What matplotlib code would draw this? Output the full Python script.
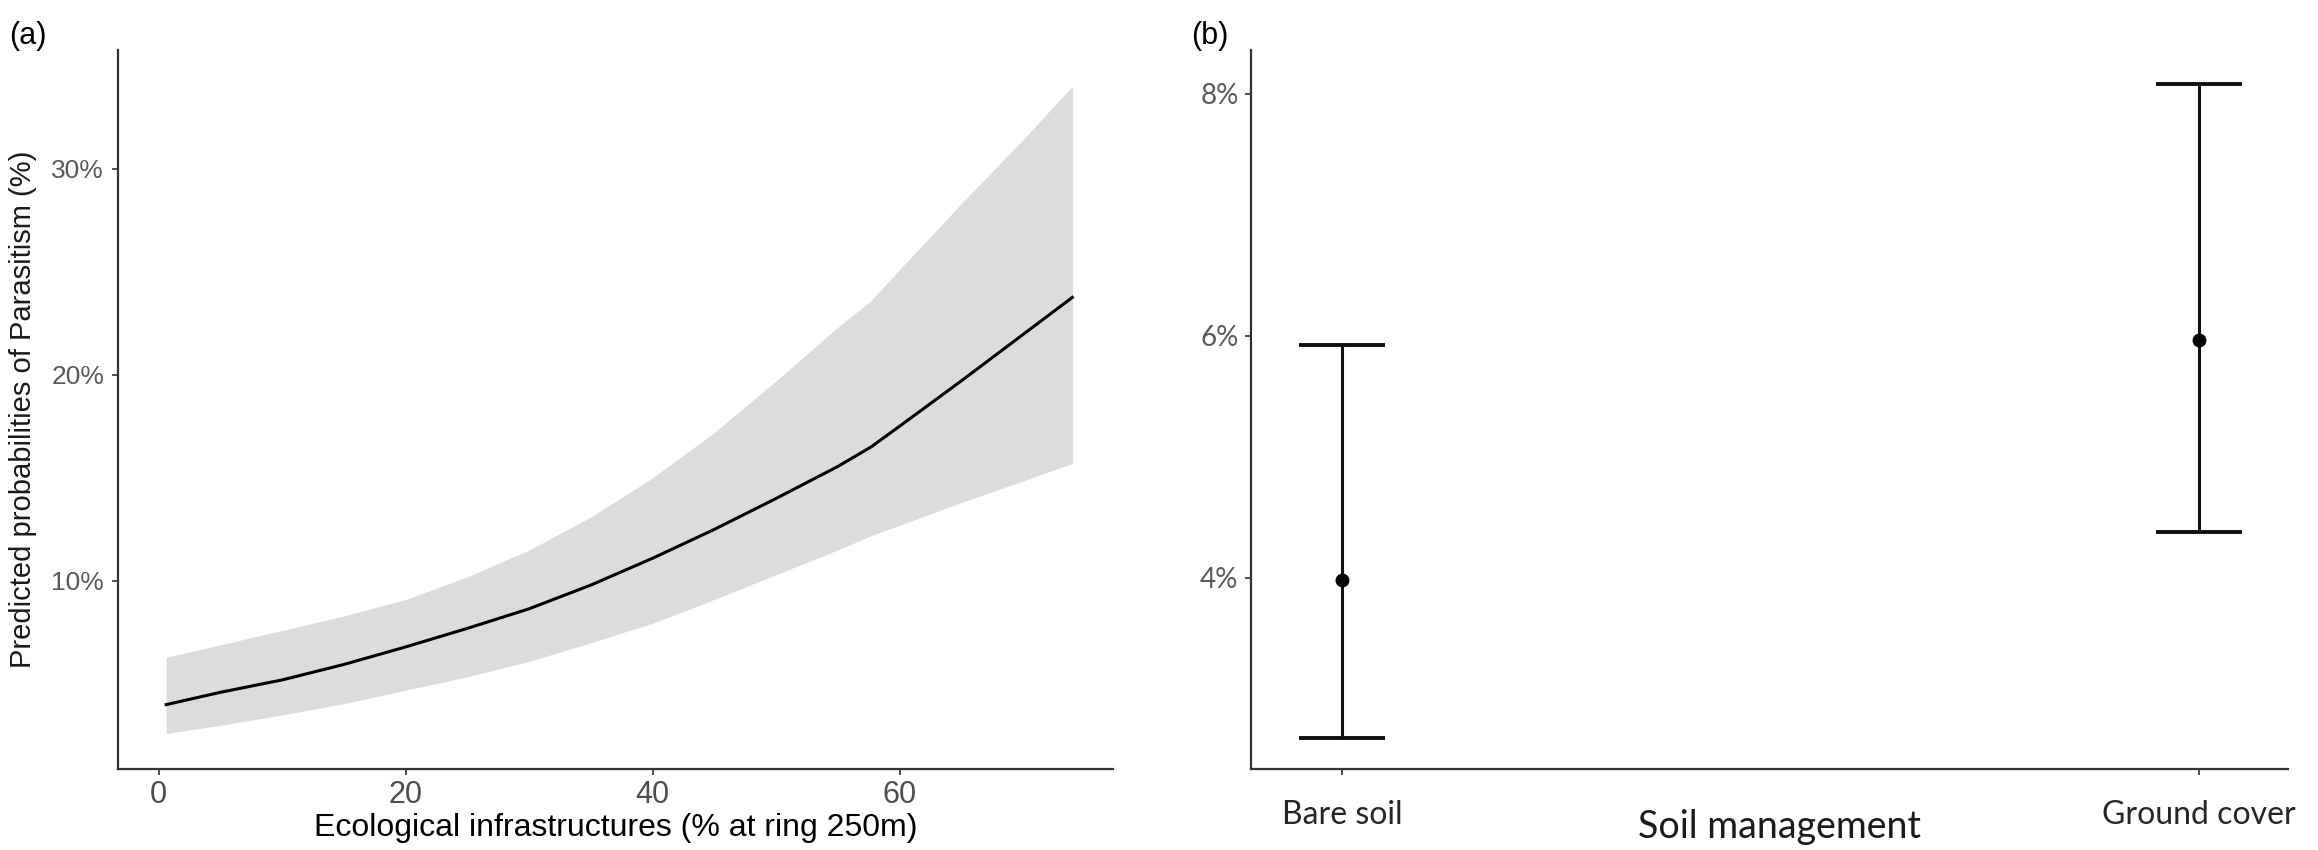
import matplotlib
matplotlib.use("Agg")
from matplotlib import pyplot as plt
from matplotlib.ticker import FuncFormatter

# painel (a): probabilidade prevista vs infraestruturas ecologicas
eco_x = [0.6, 5, 10, 15, 20, 25, 30, 35, 40, 45, 50, 55, 57.7, 60, 65, 70, 74]
prob_fit = [4.0, 4.6, 5.2, 5.95, 6.8, 7.7, 8.65, 9.8, 11.1, 12.5, 14.0,
            15.55, 16.5, 17.5, 19.7, 21.95, 23.75]
prob_low = [2.6, 3.0, 3.5, 4.05, 4.7, 5.35, 6.1, 7.0, 7.95, 9.1, 10.3,
            11.5, 12.2, 12.7, 13.8, 14.85, 15.7]
prob_high = [6.3, 6.9, 7.6, 8.3, 9.1, 10.2, 11.5, 13.1, 15.0, 17.2, 19.7,
             22.3, 23.6, 25.1, 28.3, 31.4, 34.0]

# painel (b): manejo do solo
soil_cats = ["Bare soil", "Ground cover"]
soil_est = [3.98, 5.96]
soil_low = [2.675, 4.38]
soil_high = [5.92, 8.08]

pct = FuncFormatter(lambda v, p: "%d%%" % round(v))

fig = plt.figure(figsize=(23.18, 8.5), dpi=100)
ax1 = fig.add_axes([0.0509, 0.0953, 0.4293, 0.8459])
ax2 = fig.add_axes([0.5397, 0.0953, 0.4474, 0.8459])

for ax in (ax1, ax2):
    for s in ("top", "right"):
        ax.spines[s].set_visible(False)
    for s in ("left", "bottom"):
        ax.spines[s].set_color("#333333")
        ax.spines[s].set_linewidth(1.6)
    ax.tick_params(length=4, width=1.2, color="#333333", pad=6)
    ax.yaxis.set_major_formatter(pct)

# (a)
ax1.fill_between(eco_x, prob_low, prob_high, color="#dcdcdc", linewidth=0)
ax1.plot(eco_x, prob_fit, color="black", linewidth=2.2)
ax1.set_xlim(-3.3, 77.3)
ax1.set_ylim(0.88, 35.75)
ax1.set_xticks([0, 20, 40, 60])
ax1.set_yticks([10, 20, 30])
ax1.tick_params(axis="x", labelsize=22, labelcolor="#4d4d4d", pad=4)
ax1.tick_params(axis="y", labelsize=19, labelcolor="#595959")
for t in ax1.get_xticklabels() + ax1.get_yticklabels():
    t.set_family("Liberation Sans")
ax1.set_xlabel("Ecological infrastructures (% at ring 250m)", fontsize=23,
               family="Liberation Sans", labelpad=2)
ax1.set_ylabel("Predicted probabilities of Parasitism (%)", fontsize=21,
               family="Liberation Sans", color="#1a1a1a", labelpad=10)

# (b)
pos = [1, 2]
err = [[e - l for e, l in zip(soil_est, soil_low)],
       [h - e for e, h in zip(soil_est, soil_high)]]
ax2.errorbar(pos, soil_est, yerr=err, fmt="o", color="black", ms=9,
             elinewidth=2.2, capsize=31, capthick=2.8, ecolor="#111111")
ax2.set_xlim(0.894, 2.104)
ax2.set_ylim(2.42, 8.36)
ax2.set_xticks(pos)
ax2.set_xticklabels(soil_cats)
ax2.set_yticks([4, 6, 8])
ax2.tick_params(axis="x", labelsize=23, labelcolor="#262626", pad=18)
ax2.tick_params(axis="y", labelsize=20, labelcolor="#595959", pad=5)
for t in ax2.get_xticklabels() + ax2.get_yticklabels():
    t.set_family("Lato")
ax2.set_xlabel("Soil management", fontsize=27, family="Lato", color="#1a1a1a")
ax2.xaxis.set_label_coords(0.51, -0.055)

fig.text(0.004, 0.975, "(a)", fontsize=22, family="Liberation Sans", va="top")
fig.text(0.514, 0.975, "(b)", fontsize=22, family="Liberation Sans", va="top")

fig.savefig("out.png", dpi=100, facecolor="white")
